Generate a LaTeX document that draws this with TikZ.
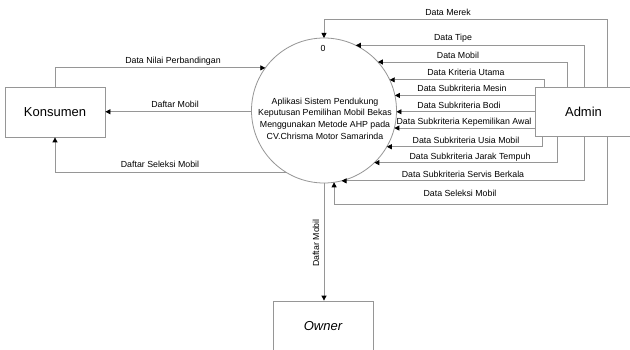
\documentclass[tikz,border=0pt]{standalone}
\usepackage{fontspec}
\setmainfont{Liberation Sans}
\usetikzlibrary{arrows.meta}
\definecolor{lineg}{RGB}{150,150,150}
\tikzset{
  flow/.style={draw=lineg, line width=0.8pt, -{Triangle[length=5pt,width=5pt,color=black]}},
  entity/.style={draw=lineg, line width=0.8pt, fill=white, minimum width=100pt, minimum height=50pt, inner sep=0pt, font=\fontsize{13}{15}\selectfont},
  lbl/.style={inner sep=0pt, font=\fontsize{8.8}{10.5}\selectfont},
  proc/.style={circle, draw=lineg, line width=0.8pt, minimum size=145pt, inner sep=0pt, outer sep=0pt}
}
\begin{document}
\begin{tikzpicture}[x=1pt, y=-1pt]
\path[use as bounding box, clip] (0,0) rectangle (630,350);
\fill[white] (0,0) rectangle (630,350);

% process
\node[proc] (c) at (324,110.5) {};
\node[lbl] (c0) at (323,48) {0};
\node[lbl, align=center, font=\fontsize{8.8}{11.6}\selectfont] (ctext) at (325,118.5)
  {Aplikasi Sistem Pendukung\\Keputusan Pemilihan Mobil Bekas\\Menggunakan Metode AHP pada\\CV.Chrisma Motor Samarinda};

% entities
\node[entity] (kons) at (55,112) {Konsumen};
\node[entity, minimum width=97pt, minimum height=49pt] (admin) at (583.5,111.5) {Admin};
\node[entity] (owner) at (323,326) {\itshape Owner};

% rail coordinates
\coordinate (x1) at (607,0);
\coordinate (x2) at (584,0);
\coordinate (x3) at (567,0);
\coordinate (x4) at (544,0);
\coordinate (x5) at (542,0);
\coordinate (x6) at (557,0);

% Konsumen flows
\draw[flow] (kons.north) |- (c.144.1);
\draw[flow] (c.181.2) -- (c.181.2 -| kons.east);
\draw[flow] (c.238) -| (kons.south);
\node[lbl] (l1) at (173,61) {Data Nilai Perbandingan};
\node[lbl] (l2) at (175,104.5) {Daftar Mobil};
\node[lbl] (l3) at (160,164.5) {Daftar Seleksi Mobil};

% Owner flow
\draw[flow] (c.south) -- (c.south |- owner.north);
\node[lbl, rotate=90] (l4) at (316,243) {Daftar Mobil};

% Admin flows
\draw[flow] (admin.north -| x1) -- ++(0,-67) -| (c.north);
\draw[flow] (admin.north -| x2) |- (c.64.6);
\draw[flow] (admin.north -| x3) |- (c.42.0);
\draw[flow] (admin.north -| x4) |- (c.25.75);
\draw[flow] (admin.west |- c.12.34) -- (c.12.34);
\draw[flow] (admin.west |- c.-1.19) -- (c.-1.19);
\draw[flow] (admin.west |- c.-14.78) -- (c.-14.78);
\draw[flow] (admin.south -| x5) |- (c.-30.23);
\draw[flow] (admin.south -| x6) |- (c.-46.4);
\draw[flow] (admin.south -| x2) |- (c.-76.5);
\draw[flow] (admin.south -| x1) -- ++(0,68) -| (c.-82.1);

\node[lbl] (r1) at (448,12.5) {Data Merek};
\node[lbl] (r2) at (453,38.5) {Data Tipe};
\node[lbl] (r3) at (458,55.5) {Data Mobil};
\node[lbl] (r4) at (466,72) {Data Kriteria Utama};
\node[lbl] (r5) at (462,88) {Data Subkriteria Mesin};
\node[lbl] (r6) at (459,105) {Data Subkriteria Bodi};
\node[lbl] (r7) at (464,122) {Data Subkriteria Kepemilikan Awal};
\node[lbl] (r8) at (466,140) {Data Subkriteria Usia Mobil};
\node[lbl] (r9) at (470,157) {Data Subkriteria Jarak Tempuh};
\node[lbl] (r10) at (463,174.5) {Data Subkriteria Servis Berkala};
\node[lbl] (r11) at (460,193.5) {Data Seleksi Mobil};
\end{tikzpicture}
\end{document}
